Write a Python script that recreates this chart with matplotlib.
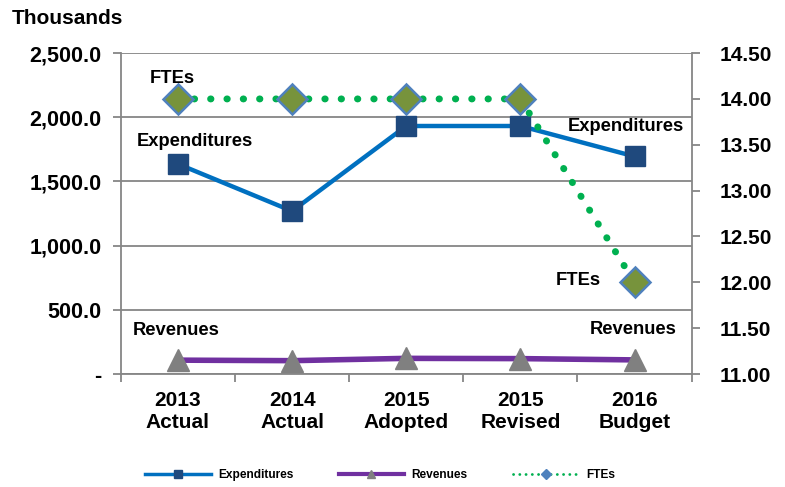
import matplotlib.pyplot as plt
from matplotlib.lines import Line2D

plt.rcParams['font.family'] = ['Liberation Sans', 'DejaVu Sans']
plt.rcParams['font.weight'] = 'bold'

categories = ['2013\nActual', '2014\nActual', '2015\nAdopted', '2015\nRevised', '2016\nBudget']
expenditures = [1636, 1269, 1932, 1932, 1695]
revenues = [108, 104, 122, 120, 110]
ftes = [14.0, 14.0, 14.0, 14.0, 12.0]

grid_c = '#868686'
x = list(range(len(categories)))

fig = plt.figure(figsize=(7.85, 4.87), dpi=100)
ax = fig.add_axes([0.154, 0.232, 0.727, 0.659])
ax2 = ax.twinx()

# left axis: money
ax.set_ylim(0, 2500)
ax.set_xlim(-0.5, 4.5)
ax.set_yticks([0, 500, 1000, 1500, 2000, 2500])
ax.set_yticklabels(['-', '500.0', '1,000.0', '1,500.0', '2,000.0', '2,500.0'])
ax.yaxis.grid(True, color=grid_c, lw=1.3)
ax.set_axisbelow(True)
ax.set_xticks([-0.5, 0.5, 1.5, 2.5, 3.5, 4.5])
ax.set_xticklabels([])
ax.set_xticks(x, minor=True)
ax.set_xticklabels(categories, minor=True, fontsize=15, fontweight='bold')
ax.tick_params(axis='x', which='minor', length=0, pad=12)
ax.tick_params(axis='x', which='major', length=6, color=grid_c, width=1.3)
ax.tick_params(axis='y', length=6, color=grid_c, width=1.3, labelsize=15.5, pad=8)
for s in ['top', 'right']:
    ax.spines[s].set_visible(False)
for s in ['left', 'bottom']:
    ax.spines[s].set_color(grid_c)
    ax.spines[s].set_linewidth(1.3)

ax.plot(x, expenditures, color='#0070C0', lw=3.2, marker='s', ms=14.5,
        mfc='#1F497D', mec='#1F497D', zorder=3)
ax.plot(x, revenues, color='#7030A0', lw=4, marker='^', ms=16,
        mfc='#808080', mec='#808080', zorder=3)

# right axis: FTEs
ax2.set_ylim(11.0, 14.5)
ax2.set_yticks([11.0, 11.5, 12.0, 12.5, 13.0, 13.5, 14.0, 14.5])
ax2.set_yticklabels(['%.2f' % v for v in ax2.get_yticks()])
ax2.tick_params(axis='y', length=6, color=grid_c, width=1.3, labelsize=15, pad=14)
for s in ['top', 'left', 'bottom']:
    ax2.spines[s].set_visible(False)
ax2.spines['right'].set_color(grid_c)
ax2.spines['right'].set_linewidth(1.3)
ax2.plot(x, ftes, color='#00B050', lw=5, linestyle=(0, (0.05, 2.3)),
         dash_capstyle='round', marker='D', ms=15, mfc='#77933C',
         mec='#4F81BD', mew=1.8, zorder=3)

# data labels
lab = dict(fontsize=13.2, fontweight='bold', textcoords='offset points', va='center')
ax2.annotate('FTEs', (x[0], ftes[0]), xytext=(-4, 15), ha='center', **lab)
ax2.annotate('FTEs', (x[4], ftes[4]), xytext=(-24, 1), ha='right', **lab)
ax.annotate('Expenditures', (x[0], expenditures[0]), xytext=(12, 16), ha='center', **lab)
ax.annotate('Expenditures', (x[4], expenditures[4]), xytext=(-6.5, 21.5), ha='center', **lab)
ax.annotate('Revenues', (x[0], revenues[0]), xytext=(-1, 21.5), ha='center', **lab)
ax.annotate('Revenues', (x[4], revenues[4]), xytext=(-1, 22), ha='center', **lab)

fig.text(0.015, 0.963, 'Thousands', fontsize=15, fontweight='bold', ha='left', va='center')

handles = [
    Line2D([], [], color='#0070C0', lw=2.5, marker='s', ms=6, mfc='#1F497D', mec='#1F497D'),
    Line2D([], [], color='#7030A0', lw=3, marker='^', ms=6, mfc='#808080', mec='#808080'),
    Line2D([], [], color='#00B050', lw=2, linestyle=(0, (0.05, 2.2)), dash_capstyle='round',
           marker='D', ms=5, mfc='#4F81BD', mec='#4F81BD'),
]
fig.legend(handles, ['Expenditures', 'Revenues', 'FTEs'], loc='center',
           bbox_to_anchor=(0.484, 0.025), ncol=3, frameon=False,
           handlelength=5.5, columnspacing=3.8, handletextpad=0.6,
           prop={'weight': 'bold', 'size': 8.6})

fig.savefig('out.png', dpi=100)
